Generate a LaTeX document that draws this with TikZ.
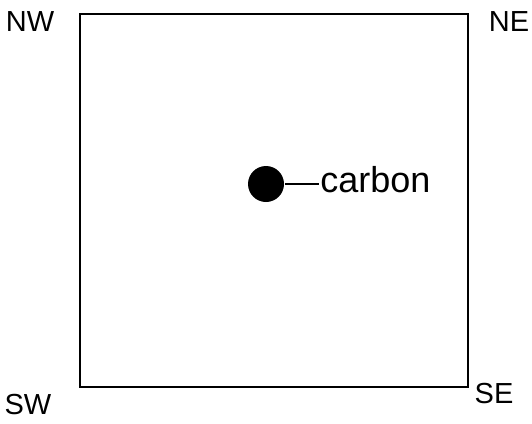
\documentclass[tikz,border=0pt]{standalone}
\usepackage{fontspec}
\setmainfont{Liberation Sans}
\usepackage{tikz}
\usetikzlibrary{calc}

\tikzset{
    corner/.style={font=\fontsize{29}{32}\selectfont},
    atom/.style={circle,fill=black,inner sep=0pt,minimum size=36pt},
}

\begin{document}
\begin{tikzpicture}[x=1pt,y=-1pt,line width=2.5pt]
        \useasboundingbox (0,0) rectangle (532,423);
        \draw (80,14) rectangle (468,387);
        \node [corner] (nw) at (30,22) {NW};
        \node [corner] (ne) at (509,22) {NE};
        \node [corner] (sw) at (28,405) {SW};
        \node [corner] (se) at (494,394) {SE};
        \node [atom] (carbon) at (266,184) {};
        \node [font=\fontsize{36}{38}\selectfont,anchor=west,inner sep=0pt] (label) at (319,180) {carbon};
        \draw [line width=2pt] (carbon.east) -- (carbon.east -| label.west);
    \end{tikzpicture}
\end{document}
